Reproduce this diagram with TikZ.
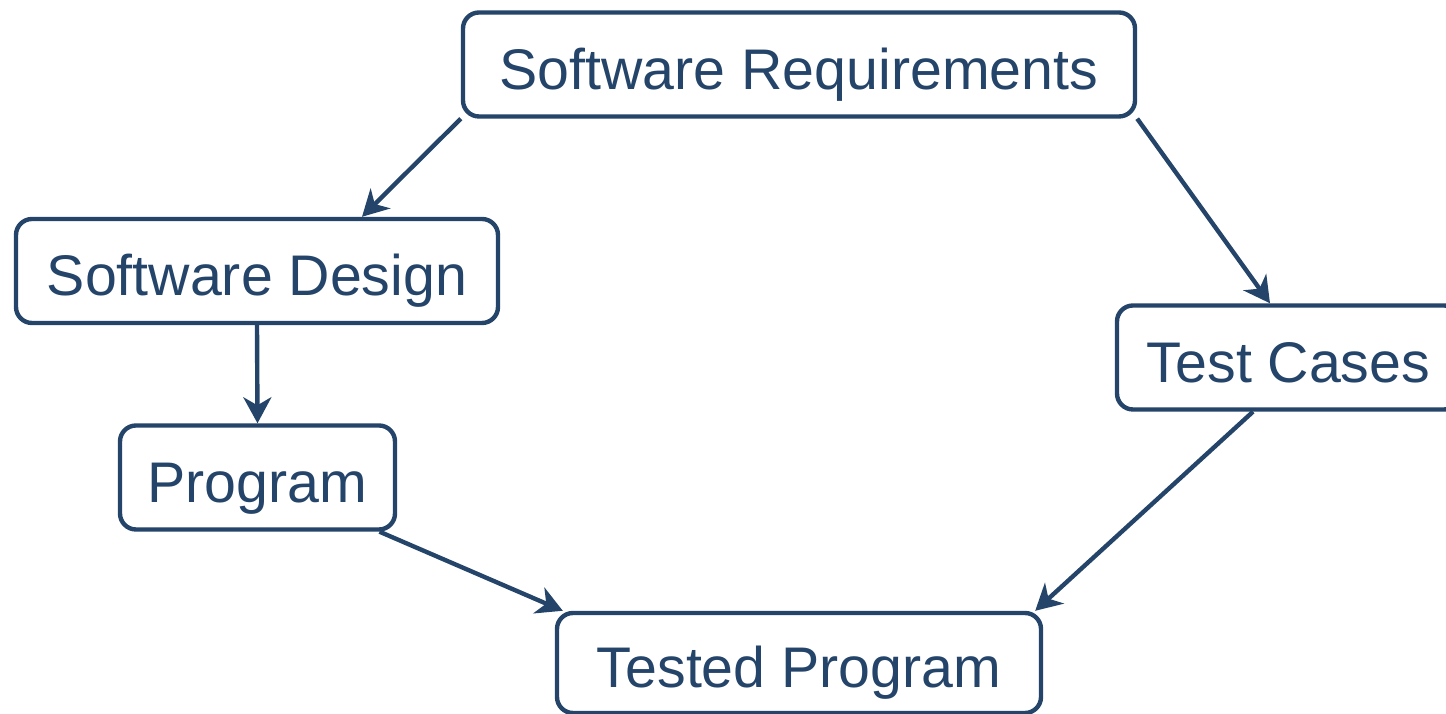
\documentclass[tikz,border=0pt]{standalone}
\usepackage{fontspec}
\setmainfont{Liberation Sans}
\usepackage{tikz}
\usetikzlibrary{arrows.meta,positioning}
\definecolor{flowblue}{HTML}{244469}

\begin{document}
\begin{tikzpicture}[
    stage/.style={draw=flowblue, line width=1.25pt, rounded corners=0.16cm, inner sep=0pt,
      minimum height=1.04cm, text=flowblue, font=\fontsize{16.3}{19}\selectfont,
      text height=16pt, text depth=2pt},
    arr/.style={-{Stealth[length=0.26cm, width=0.28cm, inset=0.08cm]}, line width=1.25pt, draw=flowblue}
  ]
    \useasboundingbox (0,0) rectangle (14.46,-7.14);

    \node[stage, minimum width=6.72cm] (req) at (7.99,-0.645) {Software Requirements};
    \node[stage, minimum width=4.82cm] (design) at (2.57,-2.71) {Software Design};
    \node[stage, minimum width=2.75cm] (prog) at (2.575,-4.775) {Program};
    \node[stage, minimum width=3.43cm] (cases) at (12.885,-3.575) {Test Cases};
    \node[stage, minimum width=4.84cm, minimum height=1.0cm] (tested) at (7.99,-6.63) {Tested Program};

    \draw[arr] (req.south west) -- ([xshift=1.05cm]design.north);
    \draw[arr] (req.south east) -- ([xshift=-0.185cm]cases.north);
    \draw[arr] (design.south) -- (prog.north);
    \draw[arr] ([xshift=1.22cm]prog.south) -- ([xshift=0.08cm]tested.north west);
    \draw[arr] ([xshift=-0.355cm]cases.south) -- ([xshift=-0.08cm]tested.north east);
\end{tikzpicture}
\end{document}
